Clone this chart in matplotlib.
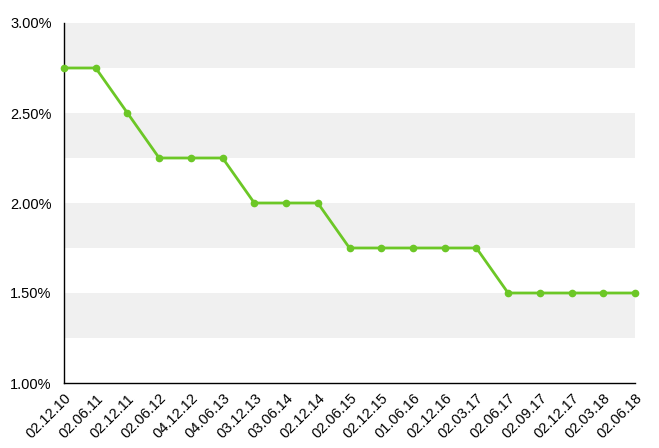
import matplotlib
matplotlib.use("Agg")
import matplotlib.pyplot as plt

plt.rcParams['font.family'] = ['Liberation Sans', 'DejaVu Sans']

# Datos
fechas = ["02.12.10", "02.06.11", "02.12.11", "02.06.12", "04.12.12", "04.06.13",
          "03.12.13", "03.06.14", "02.12.14", "02.06.15", "02.12.15", "01.06.16",
          "02.12.16", "02.03.17", "02.06.17", "02.09.17", "02.12.17", "02.03.18",
          "02.06.18"]
tasas = [2.75, 2.75, 2.50, 2.25, 2.25, 2.25, 2.00, 2.00, 2.00, 1.75, 1.75, 1.75,
         1.75, 1.75, 1.50, 1.50, 1.50, 1.50, 1.50]
y_ticks = [1.0, 1.5, 2.0, 2.5, 3.0]
bandas = [(2.75, 3.00), (2.25, 2.50), (1.75, 2.00), (1.25, 1.50)]

fig = plt.figure(figsize=(6.59, 4.48), dpi=100)
ax = fig.add_axes([64 / 659, 1 - 383 / 448, (635 - 64) / 659, (383 - 23) / 448])

x = list(range(len(fechas)))

for lo, hi in bandas:
    ax.axhspan(lo, hi, color="#f0f0f0", lw=0, zorder=0)

ax.plot(x, tasas, color="#6cc726", lw=2, marker="o", ms=4.5, clip_on=False, zorder=3)

ax.set_xlim(0, len(fechas) - 1)
ax.set_ylim(1.0, 3.0)
ax.set_yticks(y_ticks)
ax.set_yticklabels([f"{v:.2f}%" for v in y_ticks], fontsize=10.5)
ax.set_xticks(x)
ax.set_xticklabels(fechas, rotation=45, ha="right", rotation_mode="anchor", fontsize=10.5)
ax.tick_params(length=0, pad=6)
ax.tick_params(axis="y", pad=9)

ax.spines["top"].set_visible(False)
ax.spines["right"].set_visible(False)
ax.spines["left"].set_linewidth(1)
ax.spines["bottom"].set_linewidth(1)

plt.savefig("out.png", dpi=100)
